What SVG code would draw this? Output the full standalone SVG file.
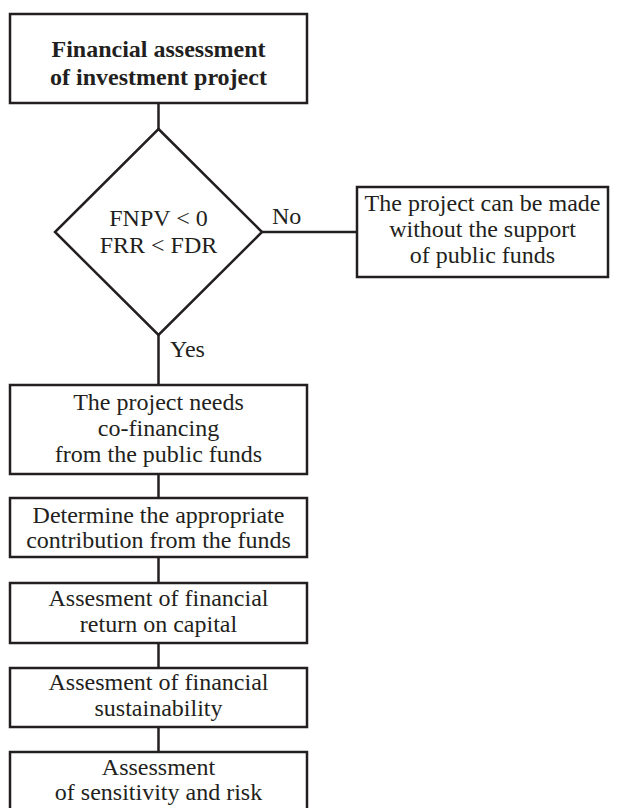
<svg xmlns="http://www.w3.org/2000/svg" width="617" height="808" viewBox="0 0 617 808">
<style>
.box{fill:#fff;stroke:#231f20;stroke-width:2.5}
.ln{stroke:#231f20;stroke-width:2.5;fill:none}
text{font-family:"Liberation Serif","Times New Roman",serif;font-size:24px;fill:#231f20;text-anchor:middle}
.b{font-weight:bold}
.l{text-anchor:start}
</style>
<rect width="617" height="808" fill="#fff"/>
<g id="connectors">
<line class="ln" x1="158.5" y1="103" x2="158.5" y2="129"/>
<line class="ln" x1="262" y1="232" x2="357" y2="232"/>
<line class="ln" x1="158.5" y1="335" x2="158.5" y2="385"/>
<line class="ln" x1="158.5" y1="474" x2="158.5" y2="498"/>
<line class="ln" x1="158.5" y1="557" x2="158.5" y2="583"/>
<line class="ln" x1="158.5" y1="643" x2="158.5" y2="668"/>
<line class="ln" x1="158.5" y1="727" x2="158.5" y2="752"/>
<text class="l" x="272" y="224">No</text>
<text class="l" x="170" y="357">Yes</text>
</g>
<g id="n1">
<rect class="box" x="10" y="14" width="297" height="89"/>
<text class="b" x="158.5" y="57">Financial assessment</text>
<text class="b" x="158.5" y="85">of investment project</text>
</g>
<g id="n2">
<polygon class="box" points="158.5,129 262,232 158.5,335 55,232"/>
<text x="158.5" y="226">FNPV &lt; 0</text>
<text x="158.5" y="253">FRR &lt; FDR</text>
</g>
<g id="n3">
<rect class="box" x="357" y="187" width="251" height="90"/>
<text x="482.5" y="211">The project can be made</text>
<text x="482.5" y="237">without the support</text>
<text x="482.5" y="263">of public funds</text>
</g>
<g id="n4">
<rect class="box" x="10" y="385" width="297" height="89"/>
<text x="158.5" y="410">The project needs</text>
<text x="158.5" y="436">co-financing</text>
<text x="158.5" y="462">from the public funds</text>
</g>
<g id="n5">
<rect class="box" x="10" y="498" width="297" height="59"/>
<text x="158.5" y="523">Determine the appropriate</text>
<text x="158.5" y="548">contribution from the funds</text>
</g>
<g id="n6">
<rect class="box" x="10" y="583" width="297" height="60"/>
<text x="158.5" y="606">Assesment of financial</text>
<text x="158.5" y="632">return on capital</text>
</g>
<g id="n7">
<rect class="box" x="10" y="668" width="297" height="59"/>
<text x="158.5" y="690">Assesment of financial</text>
<text x="158.5" y="716">sustainability</text>
</g>
<g id="n8">
<rect class="box" x="10" y="752" width="297" height="70"/>
<text x="158.5" y="775">Assessment</text>
<text x="158.5" y="800">of sensitivity and risk</text>
</g>
</svg>
